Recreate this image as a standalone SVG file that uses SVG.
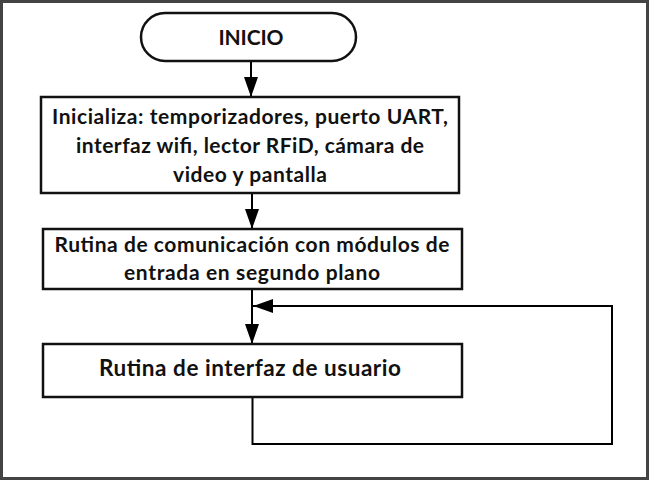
<svg xmlns="http://www.w3.org/2000/svg" width="649" height="480" viewBox="0 0 649 480">
<defs>
<marker id="ah" viewBox="0 0 20 14" refX="20" refY="7" markerWidth="20" markerHeight="14" markerUnits="userSpaceOnUse" orient="auto">
<path d="M0,0 L20,7 L0,14 z" fill="#000"/>
</marker>
<style>
.n{fill:#fff;stroke:#111;stroke-width:2.5}
.t{font-family:Lato,"Liberation Sans",sans-serif;font-weight:bold;font-size:21px;fill:#111;text-anchor:middle}
.c{fill:none;stroke:#000;stroke-width:2}
</style>
</defs>
<rect x="0" y="0" width="649" height="480" fill="#fff"/>
<rect x="1.5" y="1.5" width="646" height="477" fill="none" stroke="#444" stroke-width="3"/>
<g id="connectors">
<line class="c" x1="251" y1="62" x2="251" y2="97" marker-end="url(#ah)"/>
<line class="c" x1="252" y1="193" x2="252" y2="229" marker-end="url(#ah)"/>
<line class="c" x1="252" y1="289" x2="252" y2="344" marker-end="url(#ah)"/>
<path class="c" d="M252.5,397 V444 H612 V306 H253" marker-end="url(#ah)"/>
</g>
<g id="inicio">
<rect class="n" x="141" y="13" width="215" height="48" rx="24" ry="24"/>
<text class="t" x="251" y="45" textLength="65">INICIO</text>
</g>
<g id="inicializa">
<rect class="n" x="41" y="97" width="418" height="96"/>
<text class="t" x="250" y="124" textLength="396">Inicializa: temporizadores, puerto UART,</text>
<text class="t" x="250" y="153" textLength="348">interfaz wifi, lector RFiD, cámara de</text>
<text class="t" x="250" y="182" textLength="154">video y pantalla</text>
</g>
<g id="comunicacion">
<rect class="n" x="43" y="229" width="419" height="60"/>
<text class="t" x="252" y="252" textLength="395">Rutina de comunicación con módulos de</text>
<text class="t" x="252" y="280" textLength="256">entrada en segundo plano</text>
</g>
<g id="interfaz">
<rect class="n" x="43" y="344" width="419" height="53"/>
<text class="t" x="250" y="376" style="font-size:22.5px" textLength="302">Rutina de interfaz de usuario</text>
</g>
</svg>
